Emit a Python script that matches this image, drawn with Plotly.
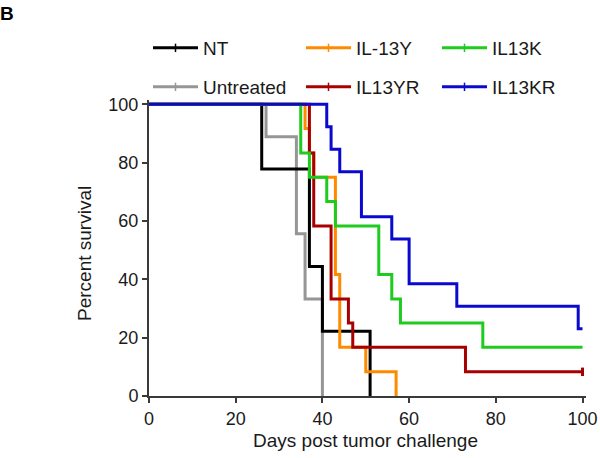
import plotly.graph_objects as go

# Kaplan-Meier event data (day of drop, survival % after the drop)
nt_days = [26, 37, 40, 51]
nt_surv = [77.8, 44.4, 22.2, 0]

untreated_days = [27, 34, 36, 40]
untreated_surv = [88.9, 55.6, 33.3, 0]

il13y_days = [36, 37, 38, 43, 44, 50, 57]
il13y_surv = [91.7, 83.3, 75.0, 41.7, 16.7, 8.3, 0]

il13yr_days = [37, 38, 42, 46, 47, 73]
il13yr_surv = [83.3, 58.3, 33.3, 25.0, 16.7, 8.3]

il13k_days = [35, 37, 41, 43, 53, 56, 58, 77]
il13k_surv = [83.3, 75.0, 66.7, 58.3, 41.7, 33.3, 25.0, 16.7]

il13kr_days = [41, 42, 44, 49, 56, 60, 71, 99]
il13kr_surv = [92.3, 84.6, 76.9, 61.5, 53.8, 38.5, 30.8, 23.1]

end_day = 100
x_ticks = [0, 20, 40, 60, 80, 100]
y_ticks = [0, 20, 40, 60, 80, 100]

series = [
    # name, days, surv, color, extend to end, censored at end, legend id
    ("Untreated", untreated_days, untreated_surv, "#969696", False, False, "legend4"),
    ("NT", nt_days, nt_surv, "#000000", False, False, "legend"),
    ("IL-13Y", il13y_days, il13y_surv, "#FF8A00", False, False, "legend2"),
    ("IL13YR", il13yr_days, il13yr_surv, "#A80000", True, True, "legend5"),
    ("IL13K", il13k_days, il13k_surv, "#1ECB1E", True, False, "legend3"),
    ("IL13KR", il13kr_days, il13kr_surv, "#0A0ACF", True, False, "legend6"),
]

fig = go.Figure()
for name, days, surv, color, extend, cens, leg in series:
    xs = [0] + list(days)
    ys = [100] + list(surv)
    if extend:
        xs.append(end_day)
        ys.append(surv[-1])
    fig.add_trace(go.Scatter(
        x=xs, y=ys, mode="lines", line=dict(color=color, width=3, shape="hv"),
        showlegend=False, hoverinfo="skip"))
    if cens:
        fig.add_trace(go.Scatter(
            x=[end_day], y=[surv[-1]], mode="markers",
            marker=dict(symbol="line-ns", size=6, line=dict(color=color, width=3)),
            showlegend=False, hoverinfo="skip", cliponaxis=False))
    # legend entry
    fig.add_trace(go.Scatter(
        x=[None], y=[None], mode="lines+markers", name=name,
        line=dict(color=color, width=3),
        marker=dict(symbol="line-ns", size=6, line=dict(color=color, width=1.5)),
        legend=leg))

font_family = "Liberation Sans, Arial, sans-serif"
text_color = "#1a1a1a"

leg_common = dict(orientation="v", xref="container", yref="container",
                  xanchor="left", yanchor="middle", bgcolor="rgba(0,0,0,0)",
                  font=dict(family=font_family, size=19, color=text_color),
                  itemwidth=45, borderwidth=0)
col_x = [148 / 600, 301 / 600, 437 / 600]
row_y = [1 - 48 / 458, 1 - 87 / 458]

fig.update_layout(
    width=600, height=458,
    paper_bgcolor="white", plot_bgcolor="white",
    margin=dict(l=149.3, r=14.2, t=99.6, b=62, autoexpand=False),
    font=dict(family=font_family, color=text_color),
    legend=dict(x=col_x[0], y=row_y[0], **leg_common),
    legend2=dict(x=col_x[1], y=row_y[0], **leg_common),
    legend3=dict(x=col_x[2], y=row_y[0], **leg_common),
    legend4=dict(x=col_x[0], y=row_y[1], **leg_common),
    legend5=dict(x=col_x[1], y=row_y[1], **leg_common),
    legend6=dict(x=col_x[2], y=row_y[1], **leg_common),
    xaxis=dict(
        range=[0, 100.8], tickvals=x_ticks, ticktext=[str(v) for v in x_ticks],
        showline=True, linecolor="#3a3a3a", linewidth=2,
        ticks="outside", ticklen=5, tickwidth=2, tickcolor="#3a3a3a",
        showgrid=False, zeroline=False, automargin=False,
        tickfont=dict(size=18, family=font_family, color=text_color),
    ),
    yaxis=dict(
        range=[0, 101.5], tickvals=y_ticks, ticktext=[str(v) for v in y_ticks],
        showline=True, linecolor="#3a3a3a", linewidth=2,
        ticks="outside", ticklen=5, tickwidth=2, tickcolor="#3a3a3a",
        showgrid=False, zeroline=False, automargin=False,
        tickfont=dict(size=18, family=font_family, color=text_color),
    ),
    annotations=[
        dict(text="<b>B</b>", xref="paper", yref="paper", x=-0.345, y=1.335,
             xanchor="left", yanchor="top", showarrow=False,
             font=dict(size=19, family=font_family, color="#000000")),
        dict(text="Days post tumor challenge", xref="paper", yref="paper",
             x=0.4965, y=-0.152, xanchor="center", yanchor="middle", showarrow=False,
             font=dict(size=19, family=font_family, color=text_color)),
        dict(text="Percent survival", xref="paper", yref="paper", textangle=-90,
             x=-0.1473, y=0.482, xanchor="center", yanchor="middle", showarrow=False,
             font=dict(size=19, family=font_family, color=text_color)),
    ],
)

fig.write_html("out.html", config={"displayModeBar": False},
               post_script="document.body.style.margin='0px';")
